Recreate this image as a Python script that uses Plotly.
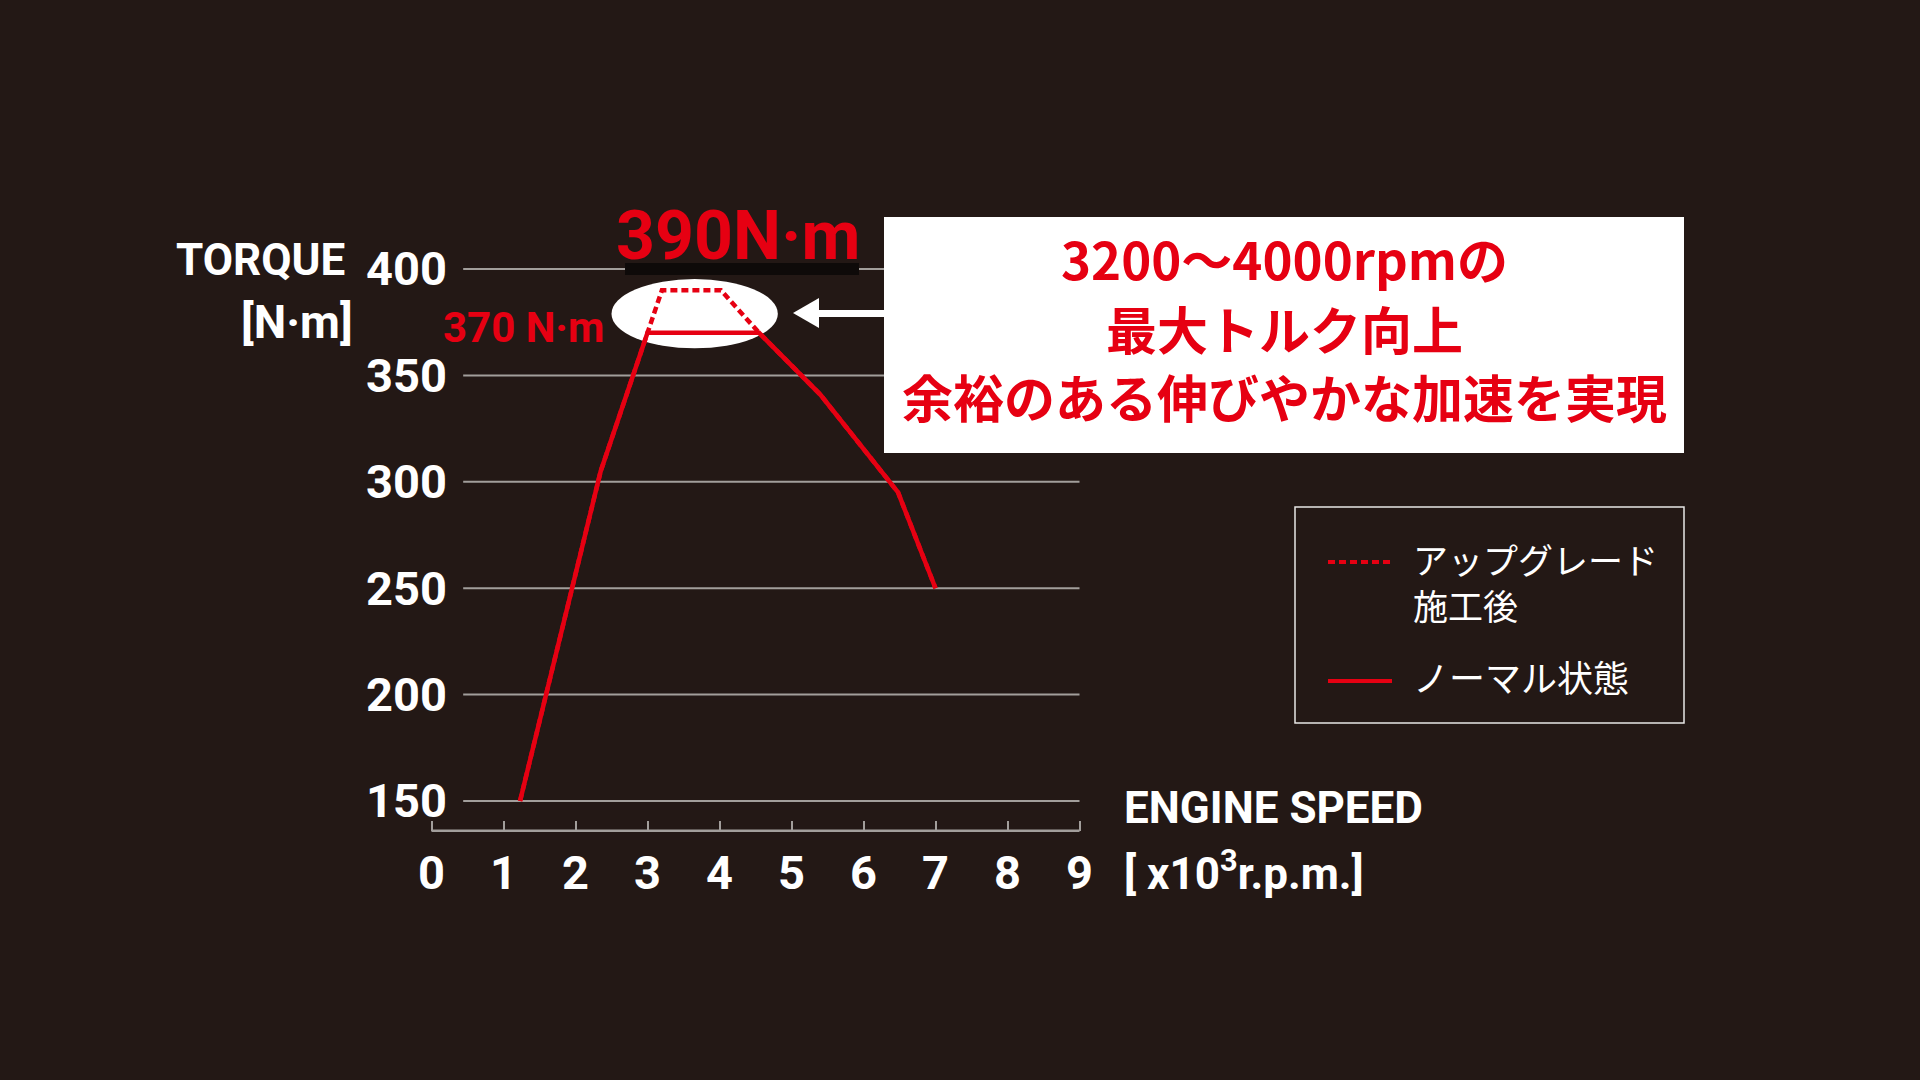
import plotly.graph_objects as go

# torque curves (x: engine speed in 1000 rpm, y: N·m)
rpm_normal = [1.23, 2.35, 3.0, 4.55, 5.4, 6.48, 7.0]
torque_normal = [150, 305, 370, 370, 341, 295, 250]
rpm_upgrade = [1.23, 2.35, 3.0, 3.2, 4.02, 4.55, 5.4, 6.48, 7.0]
torque_upgrade = [150, 305, 370, 390, 390, 370, 341, 295, 250]

y_ticks = [150, 200, 250, 300, 350, 400]
x_ticks = [0, 1, 2, 3, 4, 5, 6, 7, 8, 9]
legend_names = ["アップグレード<br>施工後", "ノーマル状態"]
peak_upgrade = "390N·m"
peak_normal = "370 N·m"
message = ["3200〜4000rpmの", "最大トルク向上", "余裕のある伸びやかな加速を実現"]

BG = "#231815"
RED = "#e60012"
GRID = "#a29e9b"
COND = "Roboto, Noto Sans, sans-serif"
JP = "Noto Sans CJK JP, Noto Sans CJK SC, sans-serif"
W, H = 1920, 1080


def px(x):
    return x / W


def py(y):
    return 1 - y / H


# plot area fills the page; map data so that 0 rpm / 400 N·m land where the picture has them
X0, XU = 431.5, 72.0
Y400, YU = 269.0, 2.128
xr = [-X0 / XU, (W - X0) / XU]
yr = [400 - (H - Y400) / YU, 400 + Y400 / YU]

fig = go.Figure()
fig.add_trace(go.Scatter(x=rpm_upgrade, y=torque_upgrade, mode="lines", name="アップグレード施工後",
                         line=dict(color=RED, width=4.5, dash="7px,4px"), showlegend=False))
fig.add_trace(go.Scatter(x=rpm_normal, y=torque_normal, mode="lines", name="ノーマル状態",
                         line=dict(color=RED, width=4.5), showlegend=False))

shapes = []
for v in y_ticks:
    shapes.append(dict(type="line", xref="x", yref="y", x0=0.44, x1=9, y0=v, y1=v,
                       line=dict(color=GRID, width=2), layer="below"))
# x axis base line
shapes.append(dict(type="line", xref="x", yref="y", x0=0, x1=9, y0=136, y1=136,
                   line=dict(color=GRID, width=2.5), layer="below"))
# highlight ellipse around the peak
shapes.append(dict(type="circle", xref="x", yref="y", x0=2.5, x1=4.81, y0=362.7, y1=395.3,
                   fillcolor="white", line=dict(width=0), layer="below"))
# dark strip under the 390 label
shapes.append(dict(type="rect", xref="paper", yref="paper", x0=px(625), x1=px(859), y0=py(275), y1=py(263),
                   fillcolor="#0e0a09", line=dict(width=0), layer="above"))
# message box
shapes.append(dict(type="rect", xref="paper", yref="paper", x0=px(884), x1=px(1684), y0=py(453), y1=py(217),
                   fillcolor="white", line=dict(width=0), layer="above"))
# arrow
shapes.append(dict(type="rect", xref="paper", yref="paper", x0=px(815), x1=px(885), y0=py(317), y1=py(310),
                   fillcolor="white", line=dict(width=0), layer="above"))
shapes.append(dict(type="path", xref="paper", yref="paper",
                   path=f"M{px(793)},{py(313)} L{px(819)},{py(298)} L{px(819)},{py(328)} Z",
                   fillcolor="white", line=dict(width=0), layer="above"))
# legend box and samples
shapes.append(dict(type="rect", xref="paper", yref="paper", x0=px(1295), x1=px(1684), y0=py(723), y1=py(507),
                   line=dict(color="#e8e6e5", width=1.5), layer="above"))
shapes.append(dict(type="line", xref="paper", yref="paper", x0=px(1328), x1=px(1392), y0=py(562), y1=py(562),
                   line=dict(color=RED, width=4, dash="7px,4px"), layer="above"))
shapes.append(dict(type="line", xref="paper", yref="paper", x0=px(1328), x1=px(1392), y0=py(681), y1=py(681),
                   line=dict(color=RED, width=4), layer="above"))

ann = []


def text(t, x, y, size, color="white", family=COND, xanchor="center", weight="bold"):
    ann.append(dict(text=t, x=px(x), y=py(y), xref="paper", yref="paper", showarrow=False,
                    xanchor=xanchor, yanchor="middle", align="left" if xanchor == "left" else xanchor,
                    font=dict(family=family, size=size, color=color, weight=weight)))


text(peak_upgrade, 738, 236, 68, RED)
text(peak_normal, 606, 327, 42, RED, xanchor="right")
text("TORQUE", 347, 260, 44, xanchor="right")
text("[N·m]", 355, 322, 46, xanchor="right")
text("ENGINE SPEED", 1122, 808, 44, xanchor="left")
text("[ x10<sup>3</sup>r.p.m.]", 1122, 871, 44, xanchor="left")
for line, yy in zip(message, [258, 328, 396]):
    text(line, 1284, yy, 51, RED, family=JP)
text(legend_names[0], 1411, 581, 35, family=JP, xanchor="left", weight="normal")
text(legend_names[1], 1411, 676, 36, family=JP, xanchor="left", weight="normal")

fig.update_layout(
    width=W, height=H,
    paper_bgcolor=BG, plot_bgcolor=BG,
    margin=dict(l=0, r=0, t=0, b=0),
    shapes=shapes, annotations=ann,
    xaxis=dict(range=xr, tickvals=x_ticks, showgrid=False, zeroline=False, showline=False,
               anchor="free", position=py(831), ticks="inside", ticklen=10, tickwidth=2,
               tickcolor=GRID, ticklabelstandoff=10,
               tickfont=dict(family=COND, size=47, color="white", weight="bold")),
    yaxis=dict(range=yr, tickvals=y_ticks, showgrid=False, zeroline=False, showline=False,
               anchor="free", position=px(447), ticks="",
               tickfont=dict(family=COND, size=47, color="white", weight="bold")),
)

fig.write_html("out.html", config={"displayModeBar": False},
               post_script="document.body.style.margin='0';")
